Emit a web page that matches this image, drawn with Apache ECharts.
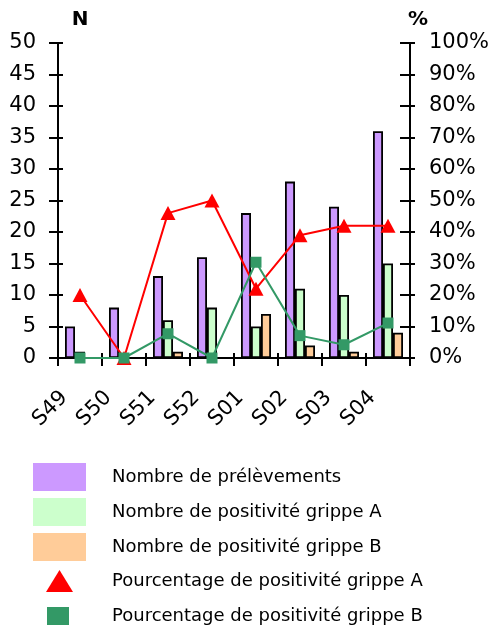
<!DOCTYPE html>
<html>
<head>
<meta charset="utf-8">
<script src="https://cdn.jsdelivr.net/npm/echarts@6/dist/echarts.min.js"></script>
<style>
  html, body { margin: 0; padding: 0; background: #fff; }
  #chart { width: 495px; height: 630px; }
</style>
</head>
<body>
<div id="chart"></div>
<script>
// semaines
const weeks = ['S49', 'S50', 'S51', 'S52', 'S01', 'S02', 'S03', 'S04'];

// nombres (axe gauche)
const prelevements = [5, 8, 13, 16, 23, 28, 24, 36];
const positifsA = [1, 0, 6, 8, 5, 11, 10, 15];
const positifsB = [0, 0, 1, 0, 7, 2, 1, 4];

// pourcentages (axe droit)
const pctA = [20, 0, 46, 50, 22, 39, 42, 42];
const pctB = [0, 0, 7.7, 0, 30.4, 7.1, 4.2, 11.1];

const names = [
  'Nombre de prélèvements',
  'Nombre de positivité grippe A',
  'Nombre de positivité grippe B',
  'Pourcentage de positivité grippe A',
  'Pourcentage de positivité grippe B'
];

const font = 'DejaVu Sans';
const chart = echarts.init(document.getElementById('chart'));

const axisLine = { show: true, lineStyle: { color: '#000', width: 2 } };
const labelStyle = { color: '#000', fontSize: 21, fontFamily: font };

// axe Y commun (les graduations traversent l'axe : un axe pour l'extérieur, un pour l'intérieur)
const yBase = (pos, max, interval, tickIn, showLabel) => {
  let len = tickIn ? 5 : 9;
  if (pos === 'right') len = tickIn ? 10 : 5;
  return {
    type: 'value',
    position: pos,
    min: 0,
    max: max,
    interval: interval,
    splitLine: { show: false },
    axisLine: showLabel ? axisLine : { show: false },
    axisTick: { show: true, inside: tickIn, length: len, lineStyle: { color: '#000', width: 2 } },
    axisLabel: showLabel
      ? Object.assign({ margin: pos === 'right' ? 19 : 22, formatter: pos === 'right' ? '{value}%' : '{value}' }, labelStyle)
      : { show: false }
  };
};

const legendText = { color: '#000', fontSize: 18, fontFamily: font };
const titleText = { fontSize: 20, fontWeight: 'bold', fontFamily: font, color: '#000' };

const option = {
  animation: false,
  backgroundColor: '#fff',
  title: [
    { text: 'N', left: 80, top: 10, padding: 0, textAlign: 'center', textStyle: titleText },
    { text: '%', left: 418, top: 10, padding: 0, textAlign: 'center', textStyle: titleText }
  ],
  grid: { left: 58, right: 85, top: 43, bottom: 272, containLabel: false },
  legend: [
    {
      orient: 'vertical', left: 33, top: 463, padding: 0,
      itemWidth: 53, itemHeight: 28, itemGap: 7,
      icon: 'rect',
      data: names.slice(0, 3),
      itemStyle: { borderWidth: 0 },
      textStyle: Object.assign({ padding: [0, 0, 0, 21] }, legendText)
    },
    {
      orient: 'vertical', left: 46, top: 570, padding: 0,
      itemWidth: 27, itemHeight: 22,
      data: [{ name: names[3], icon: 'triangle' }],
      textStyle: Object.assign({ padding: [0, 0, 0, 34] }, legendText)
    },
    {
      orient: 'vertical', left: 47, top: 607, padding: 0,
      itemWidth: 22, itemHeight: 18,
      data: [{ name: names[4], icon: 'rect' }],
      textStyle: Object.assign({ padding: [0, 0, 0, 38] }, legendText)
    }
  ],
  xAxis: [
    {
      type: 'category',
      data: weeks,
      axisLine: axisLine,
      axisTick: { show: true, length: 8, lineStyle: { color: '#000', width: 2 } },
      axisLabel: Object.assign({ rotate: 45, margin: 21, padding: [0, 22, 0, 0] }, labelStyle)
    },
    {
      type: 'category',
      data: weeks,
      position: 'bottom',
      axisLine: { show: false },
      axisTick: { show: true, inside: true, length: 5, lineStyle: { color: '#000', width: 2 } },
      axisLabel: { show: false }
    }
  ],
  yAxis: [
    yBase('left', 50, 5, false, true),
    yBase('right', 100, 10, false, true),
    yBase('left', 50, 5, true, false),
    yBase('right', 100, 10, true, false)
  ],
  series: [
    {
      name: names[0], type: 'bar', data: prelevements, barWidth: 10, barGap: '0%',
      itemStyle: { color: '#CC99FF', borderColor: '#000', borderWidth: 1.8 }
    },
    {
      name: names[1], type: 'bar', data: positifsA, barWidth: 10, barGap: '0%',
      itemStyle: { color: '#CCFFCC', borderColor: '#000', borderWidth: 1.8 }
    },
    {
      name: names[2], type: 'bar', data: positifsB, barWidth: 10, barGap: '0%',
      itemStyle: { color: '#FFCC99', borderColor: '#000', borderWidth: 1.8 }
    },
    {
      name: names[3], type: 'line', yAxisIndex: 1, data: pctA,
      symbol: 'triangle', symbolSize: [15, 14],
      lineStyle: { color: '#FF0000', width: 2 },
      itemStyle: { color: '#FF0000' }
    },
    {
      name: names[4], type: 'line', yAxisIndex: 1, data: pctB,
      symbol: 'rect', symbolSize: 11,
      lineStyle: { color: '#339966', width: 2 },
      itemStyle: { color: '#339966' }
    }
  ]
};

chart.setOption(option);
</script>
</body>
</html>
